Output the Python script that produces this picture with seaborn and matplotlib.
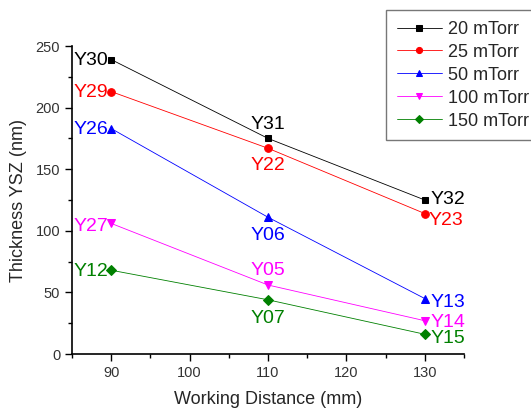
import matplotlib
matplotlib.use("Agg")
import matplotlib.pyplot as plt
import seaborn as sns
import pandas as pd
from matplotlib.ticker import MultipleLocator

sns.set_theme(style="ticks")
plt.rcParams["font.family"] = ["Liberation Sans", "DejaVu Sans"]

distance = [90, 110, 130]
series_names = ["20 mTorr", "25 mTorr", "50 mTorr", "100 mTorr", "150 mTorr"]
thickness_20 = [239, 175, 125]
thickness_25 = [213, 167, 114]
thickness_50 = [183, 111, 45]
thickness_100 = [106, 56, 27]
thickness_150 = [68, 44, 16]
labels_20 = ["Y30", "Y31", "Y32"]
labels_25 = ["Y29", "Y22", "Y23"]
labels_50 = ["Y26", "Y06", "Y13"]
labels_100 = ["Y27", "Y05", "Y14"]
labels_150 = ["Y12", "Y07", "Y15"]

colors = ["#000000", "#ff0000", "#0000ff", "#ff00ff", "#008000"]
markers = ["s", "o", "^", "v", "D"]
msizes = [5, 5.5, 6, 6, 5]

values = [thickness_20, thickness_25, thickness_50, thickness_100, thickness_150]
labels = [labels_20, labels_25, labels_50, labels_100, labels_150]
# label placement at 90 / 110 / 130 mm: (dx pts, dy pts, ha, va)
placement = [
    [(-2, -1, "right", "center"), (0, 4, "center", "bottom"), (4, 0, "left", "center")],
    [(-2, -1, "right", "center"), (0, -6, "center", "top"), (3, -5, "left", "center")],
    [(-2, -1, "right", "center"), (0, -7, "center", "top"), (4, -3, "left", "center")],
    [(-2, -2, "right", "center"), (0, 4, "center", "bottom"), (4, -1, "left", "center")],
    [(-2, -1, "right", "center"), (0, -7, "center", "top"), (4, -3, "left", "center")],
]

df = pd.concat(
    [pd.DataFrame({"distance": distance, "thickness": v, "pressure": n})
     for v, n in zip(values, series_names)],
    ignore_index=True,
)

fig = plt.figure(figsize=(5.31, 4.15), dpi=100)
ax = fig.add_axes([72 / 531, 61 / 415, (464 - 72) / 531, (354 - 46) / 415])

for name, c, m, ms in zip(series_names, colors, markers, msizes):
    sub = df[df["pressure"] == name]
    sns.lineplot(data=sub, x="distance", y="thickness", ax=ax, color=c,
                 marker=m, markersize=ms, markeredgecolor=c, linewidth=0.6,
                 label=name)

for vals, labs, plc, c in zip(values, labels, placement, colors):
    for xv, yv, lab, (dx, dy, ha, va) in zip(distance, vals, labs, plc):
        ax.annotate(lab, (xv, yv), xytext=(dx, dy), textcoords="offset points",
                    ha=ha, va=va, color=c, fontsize=14)

ax.set_xlim(85, 135)
ax.set_ylim(0, 250)
ax.xaxis.set_major_locator(MultipleLocator(10))
ax.xaxis.set_minor_locator(MultipleLocator(5))
ax.yaxis.set_major_locator(MultipleLocator(50))
ax.yaxis.set_minor_locator(MultipleLocator(25))
ax.tick_params(which="major", direction="out", length=5, width=1, labelsize=10.5,
               colors="#000000", labelcolor="#333333")
ax.tick_params(which="minor", direction="out", length=3, width=1, colors="#000000")
for s in ["top", "right"]:
    ax.spines[s].set_visible(False)
for s in ["left", "bottom"]:
    ax.spines[s].set_linewidth(1.2)
    ax.spines[s].set_color("#000000")

ax.set_xlabel("Working Distance (mm)", fontsize=13, labelpad=8)
ax.set_ylabel("Thickness YSZ (nm)", fontsize=13, labelpad=6)

leg = ax.legend(loc="upper left", bbox_to_anchor=(386 / 531, 1 - 10 / 415),
                bbox_transform=fig.transFigure, fontsize=13, frameon=True,
                fancybox=False, borderpad=0.6, labelspacing=0.33,
                handlelength=2.5, handletextpad=0.35, borderaxespad=0,
                markerscale=0.8)
leg.get_frame().set_edgecolor("#555555")
leg.get_frame().set_linewidth(1.0)

fig.savefig("out.png", dpi=100)
